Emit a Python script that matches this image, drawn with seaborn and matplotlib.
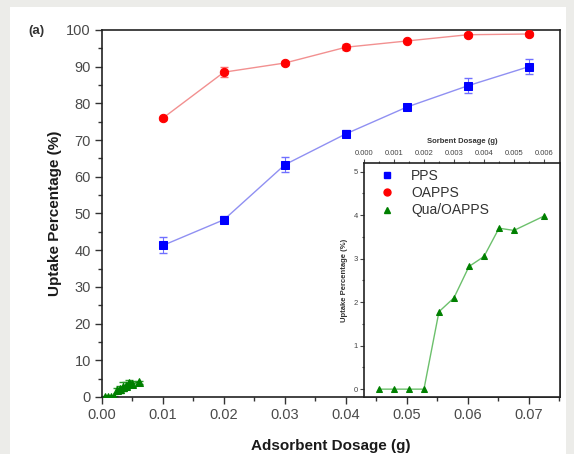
import numpy as np
import pandas as pd
import matplotlib
matplotlib.use("Agg")
import matplotlib.pyplot as plt
import seaborn as sns
from matplotlib.patches import Rectangle
from matplotlib.ticker import MultipleLocator

# data
dosage = [0.01, 0.02, 0.03, 0.04, 0.05, 0.06, 0.07]
pps = [41.3, 48.3, 63.3, 71.7, 79.0, 84.8, 90.0]
pps_err = [2.2, 1.0, 2.0, 1.0, 0.5, 2.0, 2.0]
oapps = [76.0, 88.5, 91.0, 95.3, 97.0, 98.7, 98.9]
oapps_err = [0.4, 1.3, 0.5, 0.8, 0.4, 0.5, 0.5]

sorbent = [0.0005, 0.001, 0.0015, 0.002, 0.0025, 0.003, 0.0035, 0.004, 0.0045, 0.005, 0.006]
qua = [0.0, 0.0, 0.0, 0.0, 1.78, 2.1, 2.82, 3.05, 3.7, 3.65, 3.98]
qua_err = [0.2, 0.3, 0.3, 0.4, 0.8, 1.0, 1.2, 1.0, 1.0, 0.8, 0.5]

sns.set_style("ticks")
plt.rcParams['font.family'] = ['Liberation Sans', 'DejaVu Sans']

main_df = pd.DataFrame({'x': dosage, 'PPS': pps, 'OAPPS': oapps})
qua_df = pd.DataFrame({'x': sorbent, 'Qua': qua})

fig = plt.figure(figsize=(5.74, 4.54), dpi=100)
fig.patch.set_facecolor('#ecece9')
fig.patches.append(Rectangle((10/574, 0), 556/574, 1 - 7/454, transform=fig.transFigure,
                             facecolor='white', edgecolor='none', zorder=-10))

ax = fig.add_axes([0.1777, 0.1256, 0.7979, 0.8084])

#main series (error bars behind markers)
ax.errorbar(dosage, oapps, yerr=oapps_err, fmt='none', ecolor='#ff7070', elinewidth=0.8, capsize=3, zorder=1)
ax.errorbar(dosage, pps, yerr=pps_err, fmt='none', ecolor='#7070ff', elinewidth=0.8, capsize=3, zorder=1)
ax.errorbar(sorbent, qua, yerr=qua_err, fmt='none', ecolor='#2a9a2a', elinewidth=0.8, capsize=3, zorder=1)
sns.lineplot(data=main_df, x='x', y='OAPPS', ax=ax, color='#f29090', lw=1, zorder=3,
             marker='o', markersize=6, markerfacecolor='#ff0000', markeredgecolor='#ff0000')
sns.lineplot(data=main_df, x='x', y='PPS', ax=ax, color='#9090f2', lw=1, zorder=3,
             marker='s', markersize=5.5, markerfacecolor='#0000ff', markeredgecolor='#0000ff')
sns.lineplot(data=qua_df, x='x', y='Qua', ax=ax, color='#008000', lw=1, zorder=3,
             marker='^', markersize=6, markerfacecolor='#008000', markeredgecolor='#008000')

ax.set_xlim(0, 0.0751)
ax.set_ylim(0, 100)
ax.xaxis.set_major_locator(MultipleLocator(0.01))
ax.xaxis.set_minor_locator(MultipleLocator(0.005))
ax.yaxis.set_major_locator(MultipleLocator(10))
ax.yaxis.set_minor_locator(MultipleLocator(5))
ax.xaxis.set_major_formatter(matplotlib.ticker.FormatStrFormatter('%.2f'))
ax.tick_params(which='major', direction='out', length=5, width=1, labelsize=10.5,
               colors='#333333', labelcolor='#4a4a4a', pad=3)
ax.tick_params(which='minor', direction='out', length=3, width=1, colors='#333333')
for s in ax.spines.values():
    s.set_color('#222222')
    s.set_linewidth(1.2)
ax.set_xlabel('Adsorbent Dosage (g)', fontsize=11, fontweight='bold', labelpad=12, color='#1a1a1a')
ax.set_ylabel('Uptake Percentage (%)', fontsize=11, fontweight='bold', labelpad=3, color='#1a1a1a')
fig.text(36/574, 1 - 31/454, '(a)', fontsize=9.5, fontweight='bold', ha='center', va='center', color='#333333')

# inset
ins = fig.add_axes([0.634, 0.1256, 0.3415, 0.5154])
sns.lineplot(data=qua_df, x='x', y='Qua', ax=ins, color='#6cc06c', lw=1,
             marker='^', markersize=5, markerfacecolor='#008000', markeredgecolor='#008000')
ins.set_xlim(0, 0.00653)
ins.set_ylim(-0.18, 5.2)
ins.xaxis.set_major_locator(MultipleLocator(0.001))
ins.xaxis.set_minor_locator(MultipleLocator(0.0005))
ins.yaxis.set_major_locator(MultipleLocator(1))
ins.yaxis.set_minor_locator(MultipleLocator(0.5))
ins.xaxis.set_major_formatter(matplotlib.ticker.FormatStrFormatter('%.3f'))
ins.xaxis.tick_top()
ins.xaxis.set_label_position('top')
ins.tick_params(which='major', direction='out', length=3, width=0.8, labelsize=5.5, colors='#444444', pad=1.5)
ins.tick_params(which='minor', direction='out', length=1.5, width=0.8, colors='#444444')
for s in ins.spines.values():
    s.set_color('#222222')
    s.set_linewidth(1.2)
ins.set_xlabel('Sorbent Dosage (g)', fontsize=5.5, fontweight='bold', labelpad=5, color='#333333')
ins.set_ylabel('Uptake Percentage (%)', fontsize=5.5, fontweight='bold', labelpad=4, color='#333333')

handles = [
    plt.Line2D([], [], ls='none', marker='s', color='#0000ff', markersize=5),
    plt.Line2D([], [], ls='none', marker='o', color='#ff0000', markersize=5),
    plt.Line2D([], [], ls='none', marker='^', color='#008000', markersize=5),
]
ins.legend(handles, ['PPS', 'OAPPS', 'Qua/OAPPS'], loc='upper left', frameon=False,
           fontsize=10, handletextpad=0.7, labelspacing=0.25, borderaxespad=0.0,
           bbox_to_anchor=(0.02, 1.0), labelcolor='#333333')

fig.savefig('out.png', dpi=100, facecolor=fig.get_facecolor())
